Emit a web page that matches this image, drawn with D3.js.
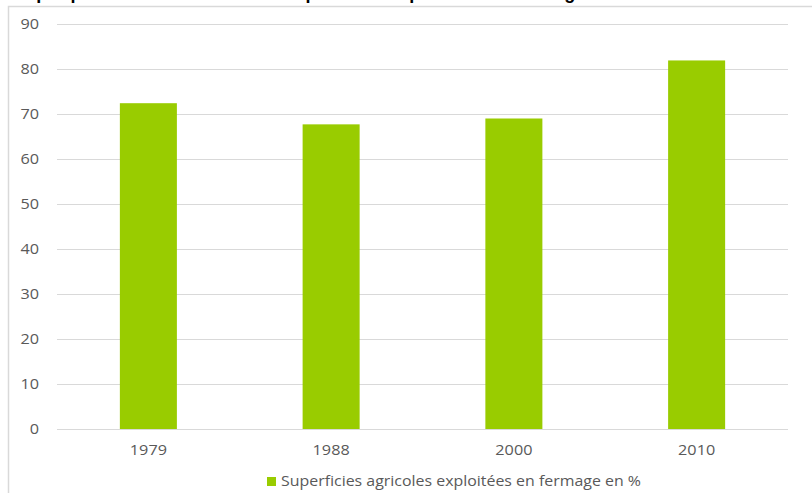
<!DOCTYPE html>
<html>
<head>
<meta charset="utf-8">
<script src="https://cdn.jsdelivr.net/npm/d3@7"></script>
<style>
  html, body { margin: 0; padding: 0; background: #fff; overflow: hidden; }
  svg { display: block; }
</style>
</head>
<body>
<script>
const categories = ["1979", "1988", "2000", "2010"];
const values = [72.4, 67.7, 69.0, 81.9];
const yTicks = [0, 10, 20, 30, 40, 50, 60, 70, 80, 90];
const seriesName = "Superficies agricoles exploitées en fermage en %";
const titleText = "Graphique n° 4 : Évolution des superficies exploitées en fermage";

const W = 812, H = 493;
const svg = d3.select("body").append("svg").attr("width", W).attr("height", H);

// title (cut off at top edge in the reference)
svg.append("text")
  .attr("x", 4).attr("y", -1)
  .attr("font-family", "Liberation Sans, Arial, sans-serif")
  .attr("font-weight", "bold").attr("font-size", 18)
  .attr("letter-spacing", 0.4)
  .attr("fill", "#000")
  .text(titleText);

// chart frame
svg.append("path")
  .attr("d", `M8.5,${H + 2} V6.5 H${W + 2}`)
  .attr("fill", "none").attr("stroke", "#d9d9d9").attr("stroke-width", 1.5);

const x = d3.scaleBand().domain(categories).range([57, 788])
  .paddingInner(0.688).paddingOuter(0.344);
const y = d3.scaleLinear().domain([0, 90]).range([429, 24]);

const font = "Open Sans, sans-serif";
const textColor = "#595959";

// gridlines
svg.append("g").selectAll("line").data(yTicks.filter(d => d !== 0)).join("line")
  .attr("x1", 57).attr("x2", 788)
  .attr("y1", d => Math.round(y(d)) + 0.5).attr("y2", d => Math.round(y(d)) + 0.5)
  .attr("stroke", "#d9d9d9").attr("stroke-width", 1);

// bars
svg.append("g").selectAll("rect").data(values).join("rect")
  .attr("x", (d, i) => x(categories[i]))
  .attr("width", x.bandwidth())
  .attr("y", d => y(d))
  .attr("height", d => y(0) - y(d))
  .attr("fill", "#99cc00");

// y axis
const yAxis = svg.append("g").attr("transform", "translate(57,0)")
  .call(d3.axisLeft(y).tickValues(yTicks).tickSize(0).tickPadding(0));
yAxis.select(".domain").remove();
yAxis.selectAll("text")
  .attr("x", -16).attr("dy", "0.34em")
  .attr("font-family", font).attr("font-size", 14.5)
  .attr("fill", textColor)
  .attr("transform", "scale(1.12,1)");

// x axis
const xAxis = svg.append("g").attr("transform", `translate(0,${Math.round(y(0)) + 0.5})`)
  .call(d3.axisBottom(x).tickSize(0).tickPadding(0));
xAxis.select(".domain").attr("d", "M57,0H788").attr("stroke", "#d9d9d9");
xAxis.selectAll("text")
  .attr("y", 25.5).attr("dy", 0)
  .attr("font-family", font).attr("font-size", 14.5)
  .attr("fill", textColor)
  .attr("transform", "scale(1.12,1)");

// legend
const lg = svg.append("g").attr("transform", "translate(267,477)");
lg.append("rect").attr("width", 9).attr("height", 9).attr("fill", "#99cc00");
lg.append("text").attr("x", 14).attr("y", 9)
  .attr("font-family", font).attr("font-size", 14.5)
  .attr("fill", textColor)
  .attr("textLength", 360).attr("lengthAdjust", "spacingAndGlyphs")
  .text(seriesName);
</script>
</body>
</html>
